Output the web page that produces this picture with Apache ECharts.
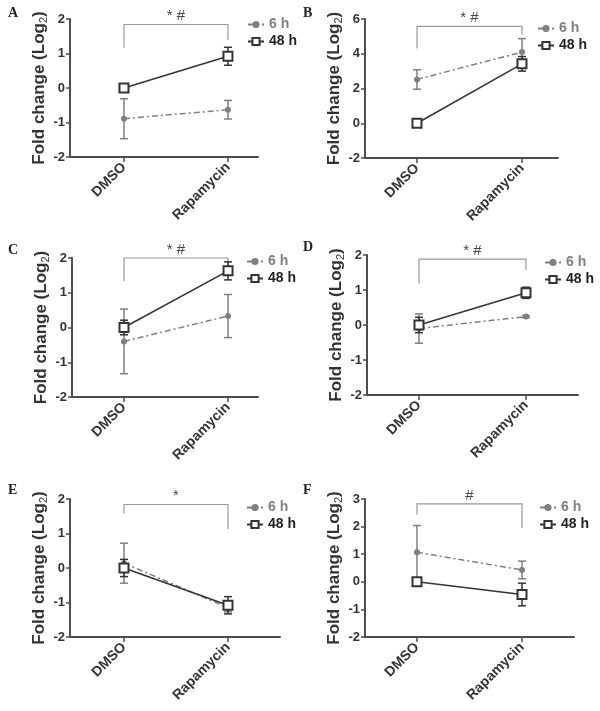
<!DOCTYPE html>
<html><head><meta charset="utf-8">
<script src="https://cdn.jsdelivr.net/npm/echarts@6/dist/echarts.min.js"></script>
<style>html,body{margin:0;padding:0;background:#fff}#c{width:600px;height:711px}</style>
</head><body><div id="c"></div>
<script>
// ---- data ----
const categories = ['DMSO', 'Rapamycin'];
const panelLetters = ['A', 'B', 'C', 'D', 'E', 'F'];
const sigLabels = ['* #', '* #', '* #', '* #', '*', '#'];
const yMins = [-2, -2, -2, -2, -2, -2];
const yMaxs = [2, 6, 2, 2, 2, 3];
const yIntervals = [1, 2, 1, 1, 1, 1];

// 6 h means / error, 48 h means / error  (DMSO, Rapamycin)
const h6A = [-0.89, -0.63], h6errA = [0.58, 0.27], h48A = [0, 0.92], h48errA = [0.05, 0.26];
const h6B = [2.52, 4.10], h6errB = [0.56, 0.77], h48B = [0, 3.42], h48errB = [0.05, 0.42];
const h6C = [-0.40, 0.33], h6errC = [0.93, 0.62], h48C = [0, 1.63], h48errC = [0.21, 0.26];
const h6D = [-0.10, 0.24], h6errD = [0.42, 0.03], h48D = [0, 0.92], h48errD = [0.22, 0.16];
const h6E = [0.14, -1.15], h6errE = [0.58, 0.12], h48E = [0, -1.08], h48errE = [0.25, 0.25];
const h6F = [1.07, 0.43], h6errF = [0.97, 0.32], h48F = [0, -0.46], h48errF = [0.03, 0.41];

// significance brackets: [top, left leg end, right leg end]
const bracketA = [1.84, 1.17, 1.39];
const bracketB = [5.57, 4.30, 5.10];
const bracketC = [2.00, 1.33, 1.77];
const bracketD = [1.88, 1.18, 1.57];
const bracketE = [1.84, 1.58, 1.13];
const bracketF = [2.82, 2.43, 1.95];

const h6 = [h6A, h6B, h6C, h6D, h6E, h6F];
const h6err = [h6errA, h6errB, h6errC, h6errD, h6errE, h6errF];
const h48 = [h48A, h48B, h48C, h48D, h48E, h48F];
const h48err = [h48errA, h48errB, h48errC, h48errD, h48errE, h48errF];
const brackets = [bracketA, bracketB, bracketC, bracketD, bracketE, bracketF];

// ---- layout ----
const layout = [
  {left: 70,  top: 19,  width: 188, height: 138, xmin: -0.519, xmax: 1.289, lx: 247, ly: 17, letter: [8, 6]},
  {left: 365, top: 19,  width: 193, height: 139, xmin: -0.495, xmax: 1.343, lx: 537, ly: 21, letter: [303, 6]},
  {left: 72,  top: 258, width: 186, height: 139, xmin: -0.500, xmax: 1.288, lx: 246, ly: 254, letter: [8, 243]},
  {left: 367, top: 255, width: 211, height: 140, xmin: -0.486, xmax: 1.486, lx: 544, ly: 255, letter: [303, 240]},
  {left: 70,  top: 499, width: 210, height: 138, xmin: -0.519, xmax: 1.500, lx: 246, ly: 500, letter: [8, 483]},
  {left: 365, top: 499, width: 209, height: 138, xmin: -0.495, xmax: 1.495, lx: 539, ly: 500, letter: [303, 483]}
];

const C6 = '#7f7f7f', C48 = '#333333', AX = '#4d4d4d';
const grid = [], xAxis = [], yAxis = [], series = [], legend = [], graphic = [];

function errSeries(i, means, errs, color, z) {
  return {
    type: 'custom', xAxisIndex: i, yAxisIndex: i, z: z, silent: true,
    data: means.map((m, k) => [k, m - errs[k], m + errs[k]]),
    encode: {x: 0, y: [1, 2]},
    renderItem: function (params, api) {
      const x = api.value(0);
      const top = api.coord([x, api.value(2)]);
      const bot = api.coord([x, api.value(1)]);
      const c = 4;
      const st = {stroke: color, lineWidth: 1.5};
      return {type: 'group', children: [
        {type: 'line', shape: {x1: top[0], y1: top[1], x2: bot[0], y2: bot[1]}, style: st},
        {type: 'line', shape: {x1: top[0] - c, y1: top[1], x2: top[0] + c, y2: top[1]}, style: st},
        {type: 'line', shape: {x1: bot[0] - c, y1: bot[1], x2: bot[0] + c, y2: bot[1]}, style: st}
      ]};
    }
  };
}

layout.forEach((L, i) => {
  grid.push({left: L.left, top: L.top, width: L.width, height: L.height});
  xAxis.push({
    type: 'value', gridIndex: i, min: L.xmin, max: L.xmax, position: 'bottom',
    axisLine: {show: true, onZero: false, lineStyle: {color: AX, width: 2}},
    axisTick: {show: true, customValues: [0, 1], length: 5, lineStyle: {color: AX, width: 1.5}},
    axisLabel: {show: true, customValues: [0, 1], rotate: 45, margin: 8,
      formatter: v => categories[Math.round(v)],
      color: '#333', fontFamily: 'Liberation Sans, Arial', fontWeight: 'bold', fontSize: 14},
    splitLine: {show: false}
  });
  yAxis.push({
    type: 'value', gridIndex: i, min: yMins[i], max: yMaxs[i], interval: yIntervals[i], position: 'left',
    axisLine: {show: true, onZero: false, lineStyle: {color: AX, width: 2}},
    axisTick: {show: true, length: 4, lineStyle: {color: AX, width: 1.5}},
    axisLabel: {color: '#333', fontFamily: 'Liberation Sans, Arial', fontWeight: 'bold', fontSize: 13, margin: 5},
    splitLine: {show: false},
    name: '{m|Fold change (Log}{s|2}{m|)}',
    nameLocation: 'middle', nameRotate: 90, nameGap: 20,
    nameTextStyle: {
      rich: {
        m: {fontFamily: 'Liberation Sans, Arial', fontWeight: 'bold', fontSize: 17, color: '#333', lineHeight: 20},
        s: {fontFamily: 'Liberation Sans, Arial', fontSize: 11, color: '#333', lineHeight: 20, verticalAlign: 'bottom', padding: [6, 0, 0, 0]}
      }
    }
  });

  series.push(errSeries(i, h6[i], h6err[i], C6, 2));
  series.push({
    name: '6 h', type: 'line', xAxisIndex: i, yAxisIndex: i, z: 3,
    data: h6[i].map((v, k) => [k, v]),
    symbol: 'circle', symbolSize: 6,
    itemStyle: {color: C6},
    lineStyle: {color: C6, width: 1.5, type: [6, 3, 2, 3]},
    animation: false
  });
  series.push(errSeries(i, h48[i], h48err[i], C48, 4));
  series.push({
    name: '48 h', type: 'line', xAxisIndex: i, yAxisIndex: i, z: 5,
    data: h48[i].map((v, k) => [k, v]),
    symbol: 'rect', symbolSize: 9,
    itemStyle: {color: '#fff', borderColor: C48, borderWidth: 2},
    lineStyle: {color: C48, width: 1.5},
    animation: false
  });
  // significance bracket
  series.push({
    type: 'custom', xAxisIndex: i, yAxisIndex: i, z: 1, silent: true,
    data: [brackets[i]],
    encode: {x: -1, y: [0, 1, 2]},
    renderItem: function (params, api) {
      const topY = api.value(0), lb = api.value(1), rb = api.value(2);
      const p0 = api.coord([0, lb]), p1 = api.coord([0, topY]), p2 = api.coord([1, topY]), p3 = api.coord([1, rb]);
      return {type: 'group', children: [
        {type: 'polyline', shape: {points: [p0, p1, p2, p3]}, style: {stroke: '#9a9a9a', lineWidth: 1.2, fill: null}},
        {type: 'text', x: (p1[0] + p2[0]) / 2, y: p1[1] - 1,
          style: {text: sigLabels[i], textAlign: 'center', textVerticalAlign: 'bottom',
            fill: '#444', font: '15px Liberation Sans, Arial'}}
      ]};
    }
  });

  legend.push({
    left: L.lx, top: L.ly, orient: 'vertical', itemWidth: 16, itemHeight: 9, itemGap: 2,
    padding: 0, selectedMode: false,
    data: [
      {name: '6 h', textStyle: {color: C6}},
      {name: '48 h', textStyle: {color: '#222'}}
    ],
    textStyle: {fontFamily: 'Liberation Sans, Arial', fontWeight: 'bold', fontSize: 14, lineHeight: 15}
  });

  graphic.push({type: 'text', left: L.letter[0], top: L.letter[1],
    style: {text: panelLetters[i], font: 'bold 14px Liberation Serif, Times New Roman', fill: '#222'}});
});

const chart = echarts.init(document.getElementById('c'), null, {renderer: 'canvas'});
chart.setOption({animation: false, grid, xAxis, yAxis, series, legend, graphic});
</script>
</body></html>
